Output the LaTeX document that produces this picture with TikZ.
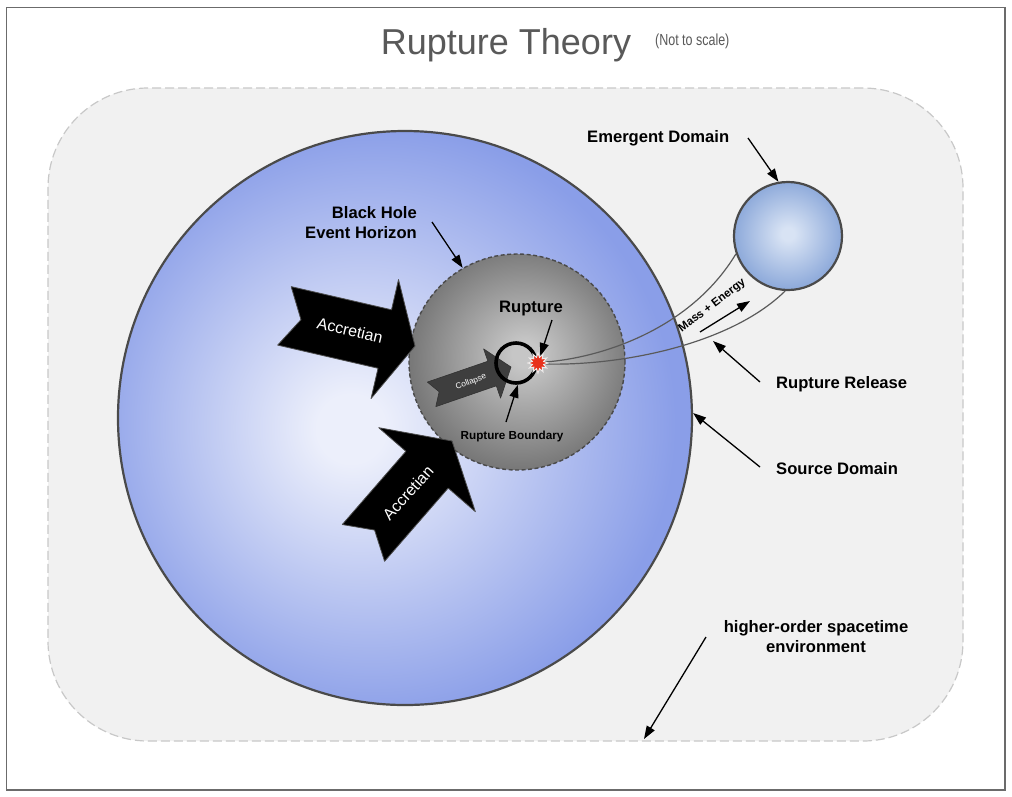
\documentclass[tikz,border=0pt]{standalone}
\usepackage{fontspec}
\setmainfont{Liberation Sans}
\newfontfamily\narrowfont[FakeStretch=0.78]{Liberation Sans}
\usetikzlibrary{arrows.meta,shapes.geometric}
\definecolor{framec}{HTML}{6B6B6B}
\definecolor{envfill}{HTML}{F1F1F1}
\definecolor{envline}{HTML}{C8C8C8}
\definecolor{titlec}{HTML}{595959}
\definecolor{srcin}{HTML}{ECEFFB}
\definecolor{srcout}{HTML}{8A9EE8}
\definecolor{bhin}{HTML}{C6C6C6}
\definecolor{bhout}{HTML}{777777}
\definecolor{edin}{HTML}{D8E3F4}
\definecolor{edout}{HTML}{8AA7D9}
\definecolor{rimc}{HTML}{4A4A4A}
\definecolor{curvec}{HTML}{5A5A5A}
\definecolor{collc}{HTML}{3E3E3E}
\definecolor{burstc}{HTML}{E8311C}
\pgfdeclareradialshading{srcshade}{\pgfpoint{-5bp}{-1bp}}{color(0bp)=(srcin); color(3bp)=(srcin); color(26bp)=(srcout); color(50bp)=(srcout)}
\pgfdeclareradialshading{bhshade}{\pgfpoint{2bp}{2bp}}{color(0bp)=(bhin); color(3bp)=(bhin); color(26bp)=(bhout); color(50bp)=(bhout)}
\pgfdeclareradialshading{edshade}{\pgfpoint{0bp}{1bp}}{color(0bp)=(edin); color(3bp)=(edin); color(26bp)=(edout); color(50bp)=(edout)}
\tikzset{
  lbl/.style={font=\bfseries\fontsize{16.6}{20}\selectfont, inner sep=0pt, text=black},
  smalllbl/.style={font=\bfseries\fontsize{11.7}{14}\selectfont, inner sep=0pt, text=black},
  arr/.style={-{Triangle[length=13pt,width=9pt]}, line width=1.3pt, black},
  accr/.style={fill=black, draw=black!70, line width=0.8pt, line join=round},
  coll/.style={fill=collc, draw=collc!80!black, line width=0.6pt, line join=round},
  accrtext/.style={font=\fontsize{16}{18}\selectfont, text=white, inner sep=0pt},
  flow/.style={draw=curvec, line width=1.2pt},
}
\begin{document}
\begin{tikzpicture}[x=1pt,y=-1pt]
\useasboundingbox (0,0) rectangle (1012,796);
% frame
\draw[framec, line width=1.4pt, fill=white] (6.5,7.5) rectangle (1005,790);
% title
\node[anchor=base, font=\fontsize{36}{40}\selectfont, text=titlec, inner sep=0pt] (title) at (506,54) {Rupture Theory};
\node[anchor=base west, font=\narrowfont\fontsize{16}{18}\selectfont, text=titlec, inner sep=0pt] (scale) at (655,45) {(Not to scale)};
% environment
\node[draw=envline, fill=envfill, dash pattern=on 9pt off 4pt, line width=1.2pt, rounded corners=100pt, minimum width=915pt, minimum height=653pt, inner sep=0pt] (env) at (505.5,414.5) {};
% source domain
\node[circle, draw=rimc, line width=2.2pt, shading=srcshade, minimum size=574pt, inner sep=0pt] (src) at (405,418) {};
% black hole
\node[circle, draw=rimc, line width=1.4pt, dash pattern=on 4pt off 2.5pt, shading=bhshade, minimum size=216pt, inner sep=0pt] (bh) at (517,362) {};
% emergent domain
\node[circle, draw=rimc, line width=2.2pt, shading=edshade, minimum size=108pt, inner sep=0pt] (ed) at (788,236) {};
% collapse arrow
\begin{scope}[shift={(511,367)}, rotate=19]
  \path[coll] (0,0) -- (-20,-26) -- (-20,-13) -- (-84,-13) -- (-76,0) -- (-84,13) -- (-20,13) -- (-20,26) -- cycle;
\end{scope}
\node[rotate=21, font=\fontsize{8.2}{10}\selectfont, text=white, inner sep=0pt] (colltxt) at (471,382) {Collapse};
% rupture boundary ring
\node[circle, draw=black, line width=3.6pt, minimum size=40pt, inner sep=0pt] (rb) at (516,363) {};
% flows
\draw[flow] (545,362) .. controls (600,358) and (690,330) .. (ed.199);
\draw[flow] (545,364) .. controls (620,366) and (730,345) .. (ed.267);
% burst
\node[star, star points=12, star point ratio=1.7, fill=burstc, draw=white!85!gray, line width=1pt, minimum size=20pt, inner sep=0pt] (burst) at (538,363) {};
% accretion arrows
\begin{scope}[shift={(415,346)}, rotate=-13]
  \path[accr] (0,0) -- (-31,-61) -- (-31,-30) -- (-134,-30) -- (-117,0) -- (-134,30) -- (-31,30) -- (-31,61) -- cycle;
\end{scope}
\node[accrtext, rotate=-13] (acc1) at (350,330) {Accretian};
\begin{scope}[shift={(452,441)}, rotate=49]
  \path[accr] (0,0) -- (-38,-64) -- (-38,-28) -- (-135,-28) -- (-118,0) -- (-135,28) -- (-38,28) -- (-38,64) -- cycle;
\end{scope}
\node[accrtext, rotate=48] (acc2) at (408,493) {Accretian};
% labels
\node[lbl, anchor=base west] (lemerg) at (587,142) {Emergent Domain};
\node[lbl, anchor=north east, align=right] (lbh) at (417,206) {Black Hole\\Event Horizon};
\node[lbl, anchor=base] (lrup) at (531,312) {Rupture};
\node[smalllbl, anchor=base] (lrb) at (512,439) {Rupture Boundary};
\node[lbl, anchor=base west] (lrel) at (776,388) {Rupture Release};
\node[lbl, anchor=base west] (lsrc) at (776,474) {Source Domain};
\node[lbl, anchor=north, align=center] (lenv) at (816,620) {higher-order spacetime\\environment};
\node[font=\bfseries\fontsize{11.5}{14}\selectfont, rotate=37.5, anchor=base, inner sep=0pt] (lme) at (714,308) {Mass + Energy};
% arrow endpoints
\coordinate (aEm) at (748,138);
\coordinate (aBh) at (432,222);
\coordinate (aRu) at (552,320);
\coordinate (aRb) at (506,422);
\coordinate (aRe) at (760,382);
\coordinate (relTip) at (713,341);
\coordinate (aSr) at (760,467);
\coordinate (aEn) at (706,637);
\coordinate (envTip) at (644,739);
\coordinate (me1) at (700,332);
\coordinate (me2) at (750,301);
% arrows
\draw[arr] (aEm) -- (ed.100);
\draw[arr] (aBh) -- (bh.120);
\draw[arr] (aRu) -- (burst.72);
\draw[arr] (aRb) -- (rb.-85);
\draw[arr] (aRe) -- (relTip);
\draw[arr] (aSr) -- (src.1);
\draw[arr] (aEn) -- (envTip);
\draw[arr] (me1) -- (me2);
\end{tikzpicture}
\end{document}
